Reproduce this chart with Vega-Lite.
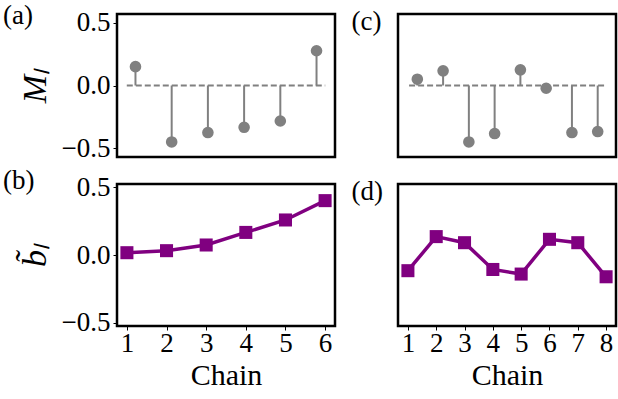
{
  "$schema": "https://vega.github.io/schema/vega-lite/v6.json",
  "padding": {"left": 1, "top": 0, "right": 0, "bottom": 0},
  "background": "white",
  "datasets": {
    "a": [
      {"chain": 1, "m": 0.15},
      {"chain": 2, "m": -0.45},
      {"chain": 3, "m": -0.375},
      {"chain": 4, "m": -0.333},
      {"chain": 5, "m": -0.283},
      {"chain": 6, "m": 0.277}
    ],
    "c": [
      {"chain": 1, "m": 0.05},
      {"chain": 2, "m": 0.117},
      {"chain": 3, "m": -0.45},
      {"chain": 4, "m": -0.383},
      {"chain": 5, "m": 0.125},
      {"chain": 6, "m": -0.022},
      {"chain": 7, "m": -0.375},
      {"chain": 8, "m": -0.367}
    ],
    "b": [
      {"chain": 1, "b": 0.017},
      {"chain": 2, "b": 0.032},
      {"chain": 3, "b": 0.074},
      {"chain": 4, "b": 0.167},
      {"chain": 5, "b": 0.259},
      {"chain": 6, "b": 0.402}
    ],
    "d": [
      {"chain": 1, "b": -0.116},
      {"chain": 2, "b": 0.136},
      {"chain": 3, "b": 0.091},
      {"chain": 4, "b": -0.107},
      {"chain": 5, "b": -0.141},
      {"chain": 6, "b": 0.116},
      {"chain": 7, "b": 0.091},
      {"chain": 8, "b": -0.161}
    ],
    "baseA": [{"x0": 0.76, "x1": 6.24}],
    "baseC": [{"x0": 0.68, "x1": 8.34}]
  },
  "columns": 2,
  "spacing": {"row": 27, "column": 63},
  "bounds": "flush",
  "concat": [
    {
      "width": 218, "height": 143,
      "title": {"text": "(a)", "anchor": "start", "frame": "group", "dx": -114, "dy": 46, "baseline": "alphabetic", "fontSize": 27, "font": "Liberation Serif", "fontWeight": "normal", "color": "black"},
      "layer": [
        {
          "data": {"name": "a"},
          "mark": {"type": "rule", "color": "#808080", "strokeWidth": 2},
          "encoding": {
            "x": {"field": "chain", "type": "quantitative", "scale": {"domain": [0.49, 6.51], "nice": false, "zero": false}, "axis": null},
            "y": {"field": "m", "type": "quantitative", "scale": {"domain": [-0.57, 0.57], "nice": false, "zero": false},
                  "axis": {"values": [-0.5, 0, 0.5], "format": ".1f", "title": "Mₗ", "titleFontStyle": "italic", "titleFontSize": 34, "titlePadding": 9}},
            "y2": {"datum": 0}
          }
        },
        {
          "data": {"name": "baseA"},
          "mark": {"type": "rule", "color": "#808080", "strokeWidth": 2, "strokeDash": [6, 3]},
          "encoding": {
            "x": {"field": "x0", "type": "quantitative"},
            "x2": {"field": "x1"},
            "y": {"datum": 0, "type": "quantitative"}
          }
        },
        {
          "data": {"name": "a"},
          "mark": {"type": "point", "shape": "circle", "filled": true, "color": "#808080", "opacity": 1, "size": 135},
          "encoding": {
            "x": {"field": "chain", "type": "quantitative"},
            "y": {"field": "m", "type": "quantitative"}
          }
        }
      ]
    },
    {
      "width": 218, "height": 143,
      "title": {"text": "(c)", "anchor": "start", "frame": "group", "dx": -46.6, "dy": 47, "baseline": "alphabetic", "fontSize": 27, "font": "Liberation Serif", "fontWeight": "normal", "color": "black"},
      "layer": [
        {
          "data": {"name": "c"},
          "mark": {"type": "rule", "color": "#808080", "strokeWidth": 2},
          "encoding": {
            "x": {"field": "chain", "type": "quantitative", "scale": {"domain": [0.25, 8.71], "nice": false, "zero": false}, "axis": null},
            "y": {"field": "m", "type": "quantitative", "scale": {"domain": [-0.57, 0.57], "nice": false, "zero": false}, "axis": null},
            "y2": {"datum": 0}
          }
        },
        {
          "data": {"name": "baseC"},
          "mark": {"type": "rule", "color": "#808080", "strokeWidth": 2, "strokeDash": [6, 3]},
          "encoding": {
            "x": {"field": "x0", "type": "quantitative"},
            "x2": {"field": "x1"},
            "y": {"datum": 0, "type": "quantitative"}
          }
        },
        {
          "data": {"name": "c"},
          "mark": {"type": "point", "shape": "circle", "filled": true, "color": "#808080", "opacity": 1, "size": 135},
          "encoding": {
            "x": {"field": "chain", "type": "quantitative"},
            "y": {"field": "m", "type": "quantitative"}
          }
        }
      ]
    },
    {
      "width": 218, "height": 142,
      "title": {"text": "(b)", "anchor": "start", "frame": "group", "dx": -114, "dy": 47, "baseline": "alphabetic", "fontSize": 27, "font": "Liberation Serif", "fontWeight": "normal", "color": "black"},
      "data": {"name": "b"},
      "encoding": {
        "x": {"field": "chain", "type": "quantitative", "scale": {"domain": [0.75, 6.25], "nice": false, "zero": false},
              "axis": {"values": [1, 2, 3, 4, 5, 6], "format": "d", "title": "Chain", "titleFontSize": 30, "titlePadding": 4, "labelPadding": 0, "labelOverlap": false}},
        "y": {"field": "b", "type": "quantitative", "scale": {"domain": [-0.525, 0.525], "nice": false, "zero": false},
              "axis": {"values": [-0.5, 0, 0.5], "format": ".1f", "title": "b̃ₗ", "titleFontStyle": "italic", "titleFontSize": 34, "titlePadding": 9}}
      },
      "layer": [
        {"mark": {"type": "line", "color": "#800080", "strokeWidth": 3.5}},
        {"mark": {"type": "point", "shape": "square", "filled": true, "color": "#800080", "opacity": 1, "size": 170}}
      ]
    },
    {
      "width": 218, "height": 142,
      "title": {"text": "(d)", "anchor": "start", "frame": "group", "dx": -46.6, "dy": 47, "baseline": "alphabetic", "fontSize": 27, "font": "Liberation Serif", "fontWeight": "normal", "color": "black"},
      "data": {"name": "d"},
      "encoding": {
        "x": {"field": "chain", "type": "quantitative", "scale": {"domain": [0.65, 8.35], "nice": false, "zero": false},
              "axis": {"values": [1, 2, 3, 4, 5, 6, 7, 8], "format": "d", "title": "Chain", "titleFontSize": 30, "titlePadding": 4, "labelPadding": 0, "labelOverlap": false}},
        "y": {"field": "b", "type": "quantitative", "scale": {"domain": [-0.525, 0.525], "nice": false, "zero": false}, "axis": null}
      },
      "layer": [
        {"mark": {"type": "line", "color": "#800080", "strokeWidth": 3.5}},
        {"mark": {"type": "point", "shape": "square", "filled": true, "color": "#800080", "opacity": 1, "size": 170}}
      ]
    }
  ],
  "config": {
    "view": {"stroke": "black", "strokeWidth": 2.5},
    "axis": {
      "grid": false, "domain": false, "ticks": true, "tickColor": "black", "tickSize": 4, "tickWidth": 1,
      "labelFont": "Liberation Serif", "labelFontSize": 27, "labelColor": "black", "labelPadding": 3, "labelOverlap": false,
      "titleFont": "Liberation Serif", "titleFontWeight": "normal", "titleColor": "black"
    },
    "axisX": {"labelOverlap": false}
  }
}
